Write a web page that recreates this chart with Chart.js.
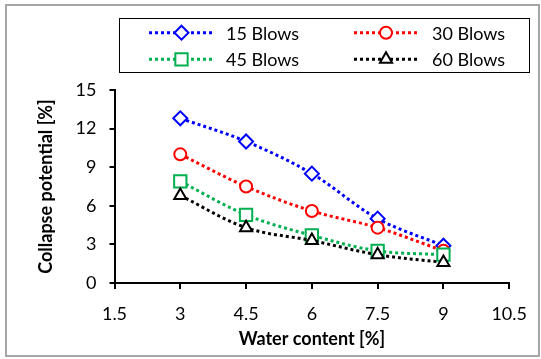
<!DOCTYPE html>
<html>
<head>
<meta charset="utf-8">
<script src="https://cdn.jsdelivr.net/npm/chart.js@4.4.1/dist/chart.umd.min.js"></script>
<style>
html,body{margin:0;padding:0;background:#fff;}
#wrap{position:relative;width:541px;height:359px;}
</style>
</head>
<body>
<div id="wrap"><canvas id="c" width="541" height="359"></canvas></div>
<script>
// ---- data ----
const waterContent = [3, 4.5, 6, 7.5, 9];
const blows15 = [12.8, 11.0, 8.5, 5.0, 2.9];
const blows30 = [10.0, 7.5, 5.6, 4.3, 2.5];
const blows45 = [7.9, 5.3, 3.7, 2.5, 2.2];
const blows60 = [6.8, 4.3, 3.3, 2.2, 1.6];
const seriesLabels = ['15 Blows', '30 Blows', '45 Blows', '60 Blows'];
const xTitle = 'Water content [%]';
const yTitle = 'Collapse potential [%]';

const FONT = 'Lato, "Liberation Sans", sans-serif';

function pts(vals){ return waterContent.map((x,i)=>({x:x,y:vals[i]})); }

const styles = [
  {color:'#0000ff', point:'rectRot', r:7},
  {color:'#ff0000', point:'circle', r:6},
  {color:'#00b050', point:'rect', r:8.7},
  {color:'#000000', point:'triangle', r:7}
];
const allSeries = [blows15, blows30, blows45, blows60];

const datasets = allSeries.map((vals,i)=>({
  label: seriesLabels[i],
  data: pts(vals),
  borderColor: styles[i].color,
  backgroundColor: '#ffffff',
  borderWidth: 3,
  borderDash: [3,3],
  tension: 0.35,
  pointStyle: styles[i].point,
  pointRadius: styles[i].r,
  pointBorderWidth: 2,
  pointBorderColor: styles[i].color,
  pointBackgroundColor: '#ffffff',
  order: 3 - i
}));

const frame = {
  id:'frame',
  beforeDraw(chart){
    const ctx = chart.ctx;
    ctx.save();
    ctx.fillStyle = '#fff';
    ctx.fillRect(0,0,chart.width,chart.height);
    ctx.strokeStyle = '#a6a6a6';
    ctx.lineWidth = 2;
    ctx.strokeRect(6,5,533,351);
    ctx.restore();
  }
};

const legendBox = {
  id:'legendBox',
  afterDraw(chart){
    const ctx = chart.ctx;
    ctx.save();
    ctx.strokeStyle = '#000';
    ctx.lineWidth = 1;
    ctx.strokeRect(119.5,18.5,410,54);
    const rows = [32.7, 59.3];
    const cols = [{l:149, r:214, t:226}, {l:354, r:418, t:432}];
    chart.data.datasets.forEach((ds,i)=>{
      const col = cols[i%2], y = rows[Math.floor(i/2)];
      ctx.strokeStyle = ds.borderColor;
      ctx.lineWidth = 3;
      ctx.setLineDash([3,3]);
      ctx.beginPath(); ctx.moveTo(col.l,y); ctx.lineTo(col.r,y); ctx.stroke();
      ctx.setLineDash([]);
      const mx = (col.l+col.r)/2;
      ctx.fillStyle = '#fff';
      ctx.strokeStyle = ds.borderColor;
      ctx.lineWidth = 2;
      Chart.helpers.drawPoint(ctx, {pointStyle: ds.pointStyle, radius: ds.pointRadius, rotation:0, borderWidth:2}, mx, y);
      ctx.fillStyle = '#000';
      ctx.font = '18px ' + FONT;
      ctx.textBaseline = 'middle';
      ctx.textAlign = 'left';
      ctx.fillText(ds.label, col.t, y+1);
    });
    ctx.restore();
  }
};

new Chart(document.getElementById('c'), {
  type:'line',
  data:{datasets},
  options:{
    responsive:false,
    animation:false,
    devicePixelRatio:1,
    layout:{padding:{top:90, right:28.5, left:0, bottom:0}},
    plugins:{legend:{display:false}, tooltip:{enabled:false}},
    scales:{
      x:{
        type:'linear', min:1.5, max:10.5,
        afterFit(s){ s.height = 76; },
        ticks:{stepSize:1.5, color:'#000', font:{family:FONT, size:18}, padding:14, maxRotation:0,
          callback:(v)=>String(v)},
        grid:{drawOnChartArea:false, drawTicks:true, tickLength:6, color:'#000', lineWidth:2},
        border:{color:'#000', width:2},
        title:{display:true, text:xTitle, color:'#000', font:{family:FONT, size:18, weight:'bold'}, padding:{top:0,bottom:9}}
      },
      y:{
        min:0, max:15,
        afterFit(s){ s.width = 114.5; },
        ticks:{stepSize:3, color:'#000', font:{family:FONT, size:18}, padding:13},
        grid:{drawOnChartArea:false, drawTicks:true, tickLength:5, color:'#000', lineWidth:2},
        border:{color:'#000', width:2},
        title:{display:true, text:yTitle, color:'#000', font:{family:FONT, size:18, weight:'bold'}, padding:{top:35,bottom:0}}
      }
    }
  },
  plugins:[frame, legendBox]
});
</script>
</body>
</html>
